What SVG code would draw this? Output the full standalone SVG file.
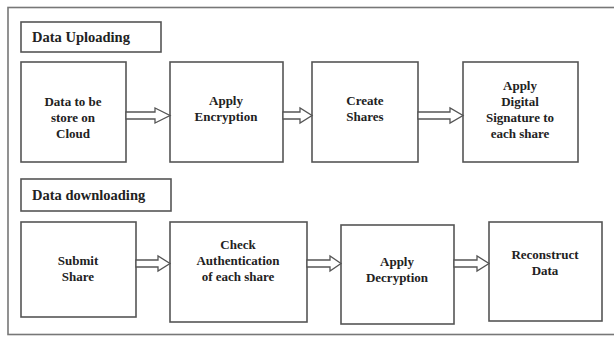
<svg xmlns="http://www.w3.org/2000/svg" width="614" height="338" viewBox="0 0 614 338" font-family="'Liberation Serif', 'DejaVu Serif', serif">
<style>
.box{fill:#fff;stroke:#555;stroke-width:1.6}
.frame{fill:none;stroke:#777;stroke-width:1.6}
.arr{fill:#fff;stroke:#555;stroke-width:1.3;stroke-linejoin:miter}
text{font-family:'Liberation Serif','DejaVu Serif',serif;font-weight:bold;fill:#222;text-anchor:middle}
.t{font-size:13px}
.h{font-size:14.5px;text-anchor:start}
</style>
<rect class="frame" x="8" y="7.5" width="620" height="327"/>
<g id="hdr-up"><rect class="box" x="21" y="22" width="140" height="30"/><text class="h" x="32" y="42">Data Uploading</text></g>
<g id="n1"><rect class="box" x="21" y="62" width="105" height="100"/><text class="t" x="73" y="106">Data to be</text><text class="t" x="73" y="122">store on</text><text class="t" x="73" y="138">Cloud</text></g>
<g id="n2"><rect class="box" x="170" y="62" width="113" height="100"/><text class="t" x="226" y="105">Apply</text><text class="t" x="226" y="121">Encryption</text></g>
<g id="n3"><rect class="box" x="312" y="62" width="106" height="100"/><text class="t" x="365" y="105">Create</text><text class="t" x="365" y="121">Shares</text></g>
<g id="n4"><rect class="box" x="463" y="62" width="115" height="100"/><text class="t" x="520" y="90">Apply</text><text class="t" x="520" y="106">Digital</text><text class="t" x="520" y="122">Signature to</text><text class="t" x="520" y="138">each share</text></g>
<g id="hdr-down"><rect class="box" x="21" y="179" width="150" height="32"/><text class="h" x="32" y="200">Data downloading</text></g>
<g id="n5"><rect class="box" x="21" y="222" width="115" height="95"/><text class="t" x="78" y="265">Submit</text><text class="t" x="78" y="281">Share</text></g>
<g id="n6"><rect class="box" x="170" y="222" width="137" height="100"/><text class="t" x="238" y="249">Check</text><text class="t" x="238" y="265">Authentication</text><text class="t" x="238" y="281">of each share</text></g>
<g id="n7"><rect class="box" x="341" y="225" width="113" height="99"/><text class="t" x="397" y="266">Apply</text><text class="t" x="397" y="282">Decryption</text></g>
<g id="n8"><rect class="box" x="489" y="222" width="113" height="99"/><text class="t" x="545" y="259">Reconstruct</text><text class="t" x="545" y="275">Data</text></g>
<g id="connectors">
<path class="arr" d="M126,112 H155 V108 L170,115.5 L155,123 V119 H126 Z"/>
<path class="arr" d="M283,112 H300 V108 L312,115.5 L300,123 V119 H283 Z"/>
<path class="arr" d="M418,112 H450 V108 L463,115.5 L450,123 V119 H418 Z"/>
<path class="arr" d="M136,260 H158 V256 L170,263.5 L158,271 V267 H136 Z"/>
<path class="arr" d="M307,260 H330 V256 L341,263.5 L330,271 V267 H307 Z"/>
<path class="arr" d="M454,260 H477 V256 L489,263.5 L477,271 V267 H454 Z"/>
</g>
</svg>
